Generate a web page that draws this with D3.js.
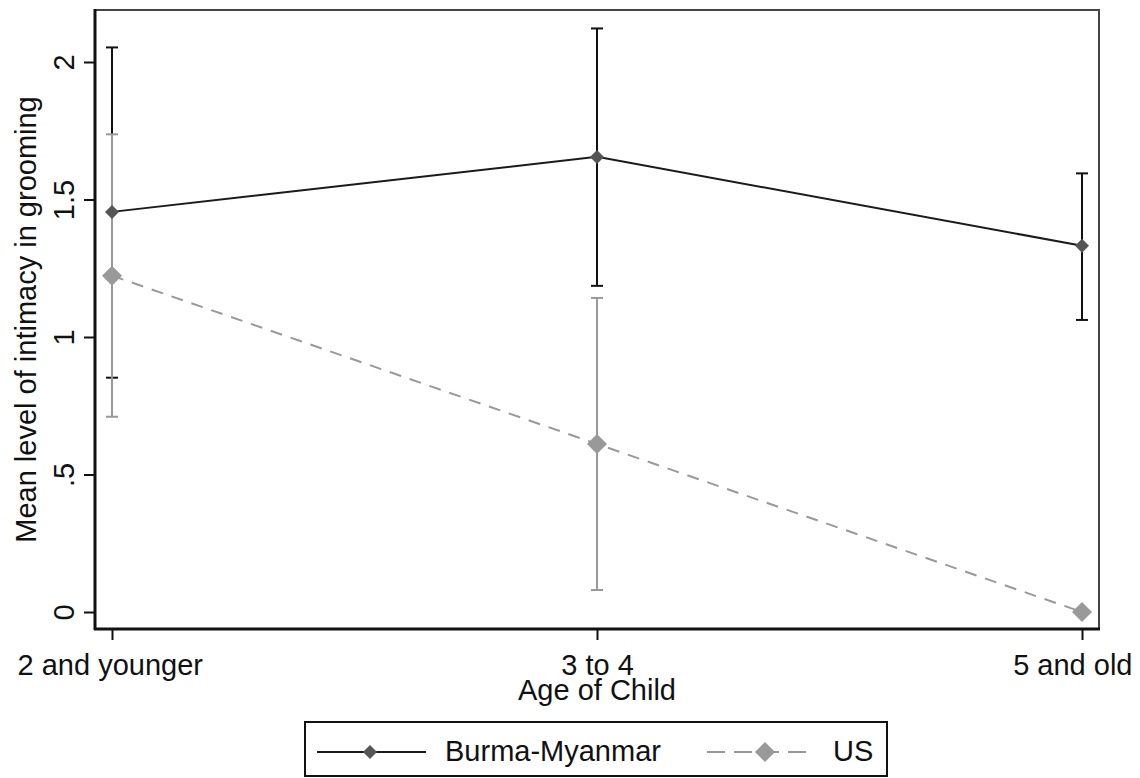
<!DOCTYPE html>
<html>
<head>
<meta charset="utf-8">
<script src="https://cdn.jsdelivr.net/npm/d3@7"></script>
<style>
  body { margin: 0; background: #fff; }
  svg text { font-family: "Liberation Sans", Arial, sans-serif; fill: #111; }
</style>
</head>
<body>
<svg id="chart" width="1140" height="778"></svg>
<script>
// categories and series
const ages = ["2 and younger", "3 to 4", "5 and old"];
const burmaMean = [1.455, 1.655, 1.332];
const burmaLow = [0.852, 1.186, 1.062];
const burmaHigh = [2.053, 2.122, 1.595];
const usMean = [1.223, 0.611, 0.0];
const usLow = [0.71, 0.08, 0.0];
const usHigh = [1.737, 1.142, 0.0];
const yTicks = [0, 0.5, 1, 1.5, 2];
const yTickLabels = ["0", ".5", "1", "1.5", "2"];
const seriesNames = ["Burma-Myanmar", "US"];

const svg = d3.select("#chart");
const frame = {left: 95, right: 1099, top: 10, bottom: 629};

const x = d3.scalePoint()
	.domain(ages)
	.range([112, 1082]);

const y = d3.scaleLinear()
	.domain([0, 2])
	.range([612, 62]);

// frame (top and right)
svg.append("rect")
	.attr("x", frame.left)
	.attr("y", frame.top)
	.attr("width", frame.right - frame.left)
	.attr("height", frame.bottom - frame.top)
	.attr("fill", "none")
	.attr("stroke", "#444")
	.attr("stroke-width", 2);

// y axis
const yAxis = d3.axisLeft(y)
	.tickValues(yTicks)
	.tickSize(11)
	.tickFormat((d, i) => yTickLabels[i]);

const yg = svg.append("g")
	.attr("transform", "translate(" + frame.left + ",0)")
	.call(yAxis);
yg.select(".domain").remove();
yg.selectAll(".tick line").attr("stroke", "#111").attr("stroke-width", 2);
yg.selectAll(".tick text")
	.attr("transform", "rotate(-90)")
	.attr("x", 0)
	.attr("y", -21)
	.attr("dy", 0)
	.attr("text-anchor", "middle")
	.style("font-size", "29px")
	.style("font-family", "Liberation Sans, Arial, sans-serif")
	.attr("fill", "#111");

svg.append("line")
	.attr("x1", frame.left).attr("x2", frame.left)
	.attr("y1", frame.top - 1).attr("y2", frame.bottom + 1)
	.attr("stroke", "#111").attr("stroke-width", 3);

// x axis
const xAxis = d3.axisBottom(x).tickSize(11).tickSizeOuter(0);
const xg = svg.append("g")
	.attr("transform", "translate(0," + frame.bottom + ")")
	.call(xAxis);
xg.select(".domain").remove();
xg.selectAll(".tick line").attr("stroke", "#111").attr("stroke-width", 2);
xg.selectAll(".tick text")
	.attr("y", 46)
	.attr("dy", 0)
	.style("font-size", "29px")
	.style("font-family", "Liberation Sans, Arial, sans-serif")
	.attr("fill", "#111");
xg.selectAll(".tick text")
	.filter((d, i) => i === 0).attr("text-anchor", "start").attr("x", -95);
xg.selectAll(".tick text")
	.filter((d, i) => i === 2).attr("text-anchor", "end").attr("x", 50);

svg.append("line")
	.attr("x1", frame.left - 1).attr("x2", frame.right + 1)
	.attr("y1", frame.bottom).attr("y2", frame.bottom)
	.attr("stroke", "#111").attr("stroke-width", 3);

// axis titles
svg.append("text")
	.attr("x", x("3 to 4"))
	.attr("y", 700)
	.attr("text-anchor", "middle")
	.style("font-size", "29px")
	.text("Age of Child");

svg.append("text")
	.attr("transform", "translate(36," + ((frame.top + frame.bottom) / 2) + ") rotate(-90)")
	.attr("text-anchor", "middle")
	.style("font-size", "29px")
	.text("Mean level of intimacy in grooming");

// error bars
function drawBars(low, high, color, cls) {
	const g = svg.append("g").attr("class", cls);
	const data = ages.map((a, i) => ({a: a, lo: low[i], hi: high[i]}))
		.filter(d => d.hi > d.lo);
	g.selectAll("line.stem").data(data).enter().append("line")
		.attr("x1", d => x(d.a)).attr("x2", d => x(d.a))
		.attr("y1", d => y(d.lo)).attr("y2", d => y(d.hi))
		.attr("stroke", color).attr("stroke-width", 2);
	[ "lo", "hi" ].forEach(k => {
		g.selectAll("line.cap-" + k).data(data).enter().append("line")
			.attr("x1", d => x(d.a) - 6).attr("x2", d => x(d.a) + 6)
			.attr("y1", d => y(d[k])).attr("y2", d => y(d[k]))
			.attr("stroke", color).attr("stroke-width", 2);
	});
}
drawBars(burmaLow, burmaHigh, "#111", "burma-bars");
drawBars(usLow, usHigh, "#999", "us-bars");

// lines
const line = d3.line()
	.x((d, i) => x(ages[i]))
	.y(d => y(d));

svg.append("path")
	.datum(burmaMean)
	.attr("d", line)
	.attr("fill", "none")
	.attr("stroke", "#1a1a1a")
	.attr("stroke-width", 2);

svg.append("path")
	.datum(usMean)
	.attr("d", line)
	.attr("fill", "none")
	.attr("stroke", "#999")
	.attr("stroke-width", 2)
	.attr("stroke-dasharray", "12,9");

const diamond = (r) => "M0," + (-r) + "L" + r + ",0L0," + r + "L" + (-r) + ",0Z";

svg.selectAll(".burma-pt").data(burmaMean).enter().append("path")
	.attr("class", "burma-pt")
	.attr("transform", (d, i) => "translate(" + x(ages[i]) + "," + y(d) + ")")
	.attr("d", diamond(7))
	.attr("fill", "#555");

svg.selectAll(".us-pt").data(usMean).enter().append("path")
	.attr("class", "us-pt")
	.attr("transform", (d, i) => "translate(" + x(ages[i]) + "," + y(d) + ")")
	.attr("d", diamond(10))
	.attr("fill", "#999");

// legend
const legend = svg.append("g");
legend.append("rect")
	.attr("x", 305).attr("y", 722)
	.attr("width", 582).attr("height", 54)
	.attr("fill", "#fff")
	.attr("stroke", "#111")
	.attr("stroke-width", 2);

legend.append("line")
	.attr("x1", 317).attr("x2", 426).attr("y1", 752).attr("y2", 752)
	.attr("stroke", "#1a1a1a").attr("stroke-width", 2);
legend.append("path")
	.attr("transform", "translate(370,752)")
	.attr("d", diamond(7))
	.attr("fill", "#555");
legend.append("text")
	.attr("x", 445).attr("y", 761)
	.style("font-size", "29px")
	.text(seriesNames[0]);

legend.append("line")
	.attr("x1", 707).attr("x2", 812).attr("y1", 752).attr("y2", 752)
	.attr("stroke", "#999").attr("stroke-width", 2)
	.attr("stroke-dasharray", "18,9");
legend.append("path")
	.attr("transform", "translate(765,752)")
	.attr("d", diamond(10))
	.attr("fill", "#999");
legend.append("text")
	.attr("x", 833).attr("y", 761)
	.style("font-size", "29px")
	.text(seriesNames[1]);
</script>
</body>
</html>
